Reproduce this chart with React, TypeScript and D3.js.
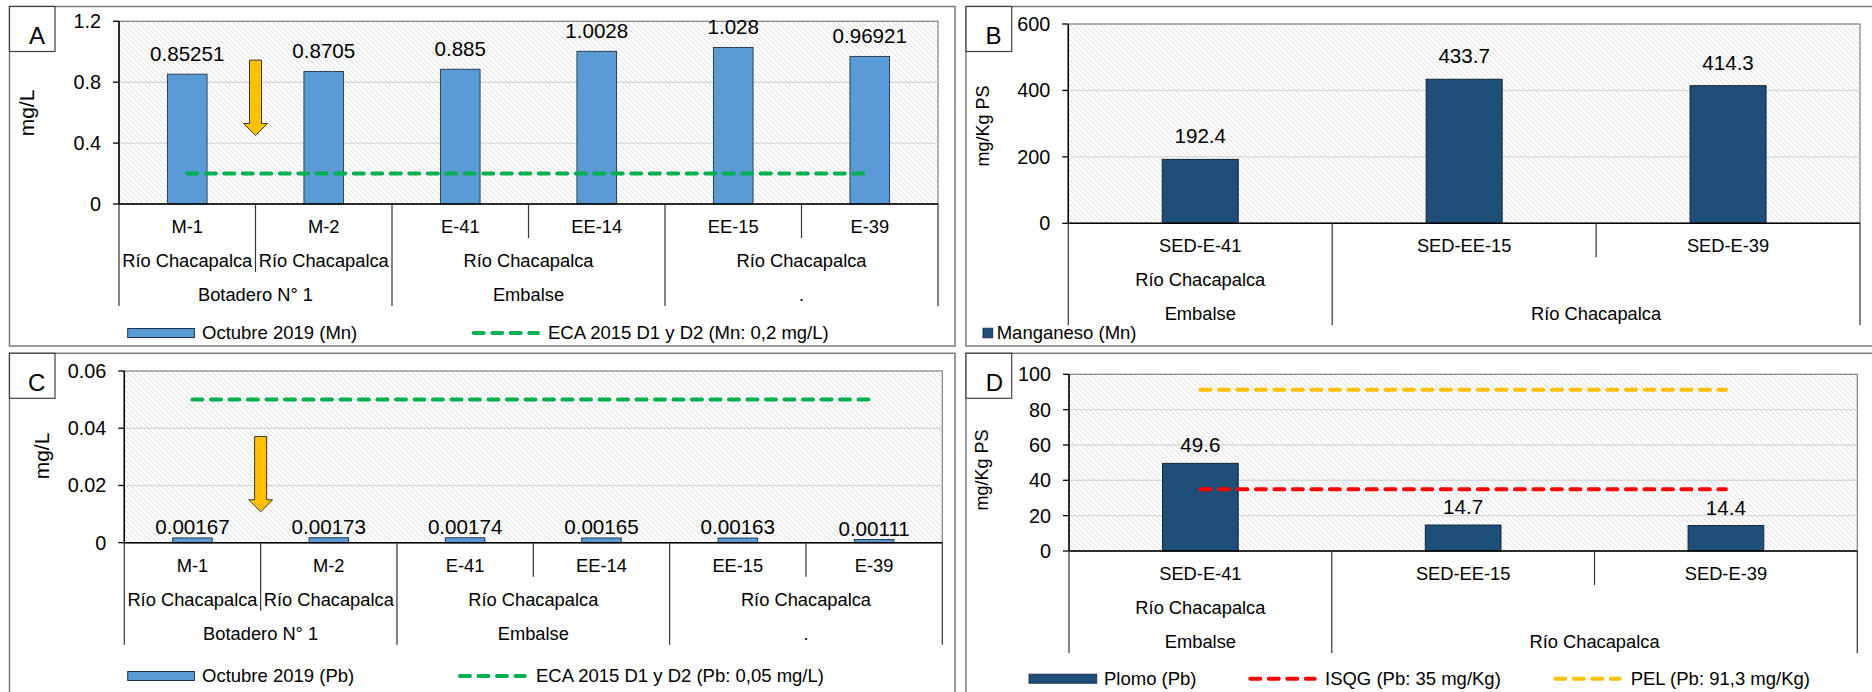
import React from "react";
import * as d3 from "d3";

// ---------- DATA ----------
const waterStations = ["M-1", "M-2", "E-41", "EE-14", "EE-15", "E-39"];
const waterRiverGroups: [string, number][] = [
  ["Río Chacapalca", 1],
  ["Río Chacapalca", 1],
  ["Río Chacapalca", 2],
  ["Río Chacapalca", 2],
];
const waterZoneGroups: [string, number][] = [
  ["Botadero N° 1", 2],
  ["Embalse", 2],
  [".", 2],
];
const mnWater = [0.85251, 0.8705, 0.885, 1.0028, 1.028, 0.96921];
const pbWater = [0.00167, 0.00173, 0.00174, 0.00165, 0.00163, 0.00111];
const ecaMn = 0.2;
const ecaPb = 0.05;

const sedStations = ["SED-E-41", "SED-EE-15", "SED-E-39"];
const sedRiverGroups: [string, number][] = [
  ["Río Chacapalca", 1],
  ["", 2],
];
const sedZoneGroups: [string, number][] = [
  ["Embalse", 1],
  ["Río Chacapalca", 2],
];
const mnSed = [192.4, 433.7, 414.3];
const pbSed = [49.6, 14.7, 14.4];
const isqgPb = 35;
const pelPb = 91.3;

const mnWaterTicks = [0, 0.4, 0.8, 1.2];
const pbWaterTicks = [0, 0.02, 0.04, 0.06];
const mnSedTicks = [0, 200, 400, 600];
const pbSedTicks = [0, 20, 40, 60, 80, 100];

const legendMnWater = ["Octubre 2019 (Mn)", "ECA 2015 D1 y D2 (Mn: 0,2 mg/L)"];
const legendPbWater = ["Octubre 2019 (Pb)", "ECA 2015 D1 y D2 (Pb: 0,05 mg/L)"];
const legendMnSed = ["Manganeso (Mn)"];
const legendPbSed = ["Plomo (Pb)", "ISQG (Pb: 35 mg/Kg)", "PEL (Pb: 91,3 mg/Kg)"];

// ---------- STYLE ----------
const FONT = "'Liberation Sans', Arial, sans-serif";
const LIGHT_BLUE = "#5B9BD5";
const NAVY = "#1F4E79";
const GREEN = "#00B050";
const RED = "#FF0000";
const YELLOW = "#FFC000";
const DASH = "10 8.5";

type Legend =
  | { kind: "rect"; x: number; w: number; h: number; color: string; text: string; tx: number }
  | { kind: "line"; x: number; x2: number; color: string; text: string; tx: number };

interface PanelProps {
  id: string;
  frame: { x: number; y: number; w: number; h: number };
  letter: string;
  letterBox: { x: number; y: number; w: number; h: number };
  letterPos: [number, number];
  plot: { x0: number; x1: number; top: number; bottom: number };
  yMax: number;
  ticks: number[];
  cats: string[];
  level2: [string, number][];
  level3: [string, number][];
  values: number[];
  barColor: string;
  barStroke: string;
  barFrac: number;
  labelLift: number;
  refLines: { value: number; color: string }[];
  yTitle: string;
  yTitlePos: [number, number];
  yTitleSize: number;
  legendY: number;
  legend: Legend[];
  arrow?: { after: number; from: number; to: number };
}

const ROW_H = 34;
const BASE_OFF = 29;

function Panel(p: PanelProps) {
  const x = d3
    .scaleBand<string>()
    .domain(p.cats)
    .range([p.plot.x0, p.plot.x1])
    .paddingInner(0)
    .paddingOuter(0);
  const y = d3.scaleLinear().domain([0, p.yMax]).range([p.plot.bottom, p.plot.top]);
  const bw = x.bandwidth();
  const n = p.cats.length;
  const edge = (k: number) => p.plot.x0 + k * bw;

  const boundaries = (groups: [string, number][]) => {
    const s = new Set<number>();
    let acc = 0;
    groups.forEach(([, span]) => {
      s.add(acc);
      acc += span;
      s.add(acc);
    });
    return s;
  };
  const b2 = boundaries(p.level2);
  const b3 = boundaries(p.level3);
  const seps = d3.range(n + 1).map((k) => {
    let depth = 1;
    if (k === 0 || k === n) depth = 3;
    else {
      if (b2.has(k)) depth = 2;
      if (b2.has(k) && b3.has(k)) depth = 3;
    }
    return { k, depth };
  });

  const groupLabels = (groups: [string, number][], row: number) => {
    let acc = 0;
    return groups.map(([label, span], i) => {
      const cx = edge(acc) + (span * bw) / 2;
      acc += span;
      return (
        <text
          key={`g${row}-${i}`}
          x={cx}
          y={p.plot.bottom + row * ROW_H + BASE_OFF}
          textAnchor="middle"
          fontSize={18.3}
        >
          {label}
        </text>
      );
    });
  };

  const first = x(p.cats[0])! + bw / 2;
  const last = x(p.cats[n - 1])! + bw / 2;
  const patId = `hatch-${p.id}`;

  let arrowPath = "";
  if (p.arrow) {
    const ax = edge(p.arrow.after + 1);
    const yTop = y(p.arrow.from);
    const yTip = y(p.arrow.to);
    const sw = 6;
    const hw = 12;
    const hl = 12;
    arrowPath = `M${ax - sw},${yTop} L${ax + sw},${yTop} L${ax + sw},${yTip - hl} L${ax + hw},${yTip - hl} L${ax},${yTip} L${ax - hw},${yTip - hl} L${ax - sw},${yTip - hl} Z`;
  }

  return (
    <g fontFamily={FONT} fill="#000">
      <defs>
        <pattern id={patId} patternUnits="userSpaceOnUse" width={5} height={5}>
          <rect width={5} height={5} fill="#fff" />
          <path d="M0,0L5,5M-1,4L1,6M4,-1L6,1" stroke="#d9d9d9" strokeWidth={0.9} />
        </pattern>
      </defs>
      {/* frame */}
      <rect
        x={p.frame.x}
        y={p.frame.y}
        width={p.frame.w}
        height={p.frame.h}
        fill="#fff"
        stroke="#7a7a7a"
        strokeWidth={1.5}
      />
      <rect
        x={p.letterBox.x}
        y={p.letterBox.y}
        width={p.letterBox.w}
        height={p.letterBox.h}
        fill="#fff"
        stroke="#404040"
        strokeWidth={1.2}
      />
      <text x={p.letterPos[0]} y={p.letterPos[1]} textAnchor="middle" fontSize={24}>
        {p.letter}
      </text>

      {/* plot area */}
      <rect
        x={p.plot.x0}
        y={p.plot.top}
        width={p.plot.x1 - p.plot.x0}
        height={p.plot.bottom - p.plot.top}
        fill={`url(#${patId})`}
        stroke="#7f7f7f"
        strokeWidth={1.2}
      />
      {p.ticks
        .filter((t) => t > 0 && t < p.yMax)
        .map((t) => (
          <line
            key={`gl${t}`}
            x1={p.plot.x0}
            x2={p.plot.x1}
            y1={y(t)}
            y2={y(t)}
            stroke="#d9d9d9"
            strokeWidth={1.4}
          />
        ))}

      {/* y axis */}
      <line x1={p.plot.x0} x2={p.plot.x0} y1={p.plot.top} y2={p.plot.bottom} stroke="#000" strokeWidth={1.5} />
      {p.ticks.map((t) => (
        <g key={`t${t}`}>
          <line x1={p.plot.x0 - 6} x2={p.plot.x0} y1={y(t)} y2={y(t)} stroke="#000" strokeWidth={1.3} />
          <text x={p.plot.x0 - 18} y={y(t)} dy="0.35em" textAnchor="end" fontSize={19.8}>
            {String(t)}
          </text>
        </g>
      ))}
      <text
        transform={`translate(${p.yTitlePos[0]},${p.yTitlePos[1]}) rotate(-90)`}
        textAnchor="middle"
        fontSize={p.yTitleSize}
      >
        {p.yTitle}
      </text>

      {/* bars */}
      {p.values.map((v, i) => {
        const cx = x(p.cats[i])! + bw / 2;
        const w = bw * p.barFrac;
        return (
          <rect
            key={`b${i}`}
            x={cx - w / 2}
            y={y(v)}
            width={w}
            height={y(0) - y(v)}
            fill={p.barColor}
            stroke={p.barStroke}
            strokeWidth={1}
          />
        );
      })}

      {/* reference lines */}
      {p.refLines.map((r, i) => (
        <line
          key={`r${i}`}
          x1={first}
          x2={last}
          y1={y(r.value)}
          y2={y(r.value)}
          stroke={r.color}
          strokeWidth={4}
          strokeDasharray={DASH}
          strokeLinecap="round"
        />
      ))}

      {/* x axis line */}
      <line x1={p.plot.x0} x2={p.plot.x1} y1={p.plot.bottom} y2={p.plot.bottom} stroke="#000" strokeWidth={1.5} />

      {/* data labels */}
      {p.values.map((v, i) => (
        <text
          key={`l${i}`}
          x={x(p.cats[i])! + bw / 2}
          y={y(v) - p.labelLift}
          textAnchor="middle"
          fontSize={20.6}
        >
          {String(v)}
        </text>
      ))}

      {/* arrow */}
      {p.arrow && <path d={arrowPath} fill={YELLOW} stroke="#3a3a3a" strokeWidth={1} />}

      {/* category separators */}
      {seps.map((s) => (
        <line
          key={`s${s.k}`}
          x1={edge(s.k)}
          x2={edge(s.k)}
          y1={p.plot.bottom}
          y2={p.plot.bottom + s.depth * ROW_H}
          stroke="#333"
          strokeWidth={1.2}
        />
      ))}
      {p.cats.map((c) => (
        <text
          key={`c${c}`}
          x={x(c)! + bw / 2}
          y={p.plot.bottom + BASE_OFF}
          textAnchor="middle"
          fontSize={18.3}
        >
          {c}
        </text>
      ))}
      {groupLabels(p.level2, 1)}
      {groupLabels(p.level3, 2)}

      {/* legend */}
      {p.legend.map((l, i) => (
        <g key={`lg${i}`}>
          {l.kind === "rect" ? (
            <rect
              x={l.x}
              y={p.legendY - l.h / 2}
              width={l.w}
              height={l.h}
              fill={l.color}
              stroke="#1f3350"
              strokeWidth={1}
            />
          ) : (
            <line
              x1={l.x + 2}
              x2={l.x2 - 2}
              y1={p.legendY}
              y2={p.legendY}
              stroke={l.color}
              strokeWidth={4}
              strokeDasharray={DASH}
              strokeLinecap="round"
            />
          )}
          <text x={l.tx} y={p.legendY} dy="0.35em" fontSize={18.5}>
            {l.text}
          </text>
        </g>
      ))}
    </g>
  );
}

export default function App() {
  return (
    <svg
      width={1872}
      height={692}
      style={{ position: "absolute", left: 0, top: 0, background: "#fff" }}
    >
      <rect width={1872} height={692} fill="#fff" />
      <Panel
        id="A"
        frame={{ x: 9.5, y: 6.5, w: 945.5, h: 339.5 }}
        letter="A"
        letterBox={{ x: 9.5, y: 6.5, w: 45.5, h: 45 }}
        letterPos={[37, 43.5]}
        plot={{ x0: 119, x1: 938, top: 21.3, bottom: 204 }}
        yMax={1.2}
        ticks={mnWaterTicks}
        cats={waterStations}
        level2={waterRiverGroups}
        level3={waterZoneGroups}
        values={mnWater}
        barColor={LIGHT_BLUE}
        barStroke="#2a3f55"
        barFrac={0.29}
        labelLift={13}
        refLines={[{ value: ecaMn, color: GREEN }]}
        yTitle="mg/L"
        yTitlePos={[34, 113]}
        yTitleSize={21}
        legendY={333}
        legend={[
          { kind: "rect", x: 127.7, w: 66.7, h: 9, color: LIGHT_BLUE, text: legendMnWater[0], tx: 202 },
          { kind: "line", x: 471.7, x2: 540, color: GREEN, text: legendMnWater[1], tx: 548 },
        ]}
        arrow={{ after: 0, from: 0.945, to: 0.45 }}
      />
      <Panel
        id="B"
        frame={{ x: 966, y: 6.5, w: 910, h: 339.5 }}
        letter="B"
        letterBox={{ x: 966, y: 6.5, w: 45.7, h: 45 }}
        letterPos={[993.5, 43.5]}
        plot={{ x0: 1068.3, x1: 1860, top: 24, bottom: 223.3 }}
        yMax={600}
        ticks={mnSedTicks}
        cats={sedStations}
        level2={sedRiverGroups}
        level3={sedZoneGroups}
        values={mnSed}
        barColor={NAVY}
        barStroke="#10263d"
        barFrac={0.288}
        labelLift={16}
        refLines={[]}
        yTitle="mg/Kg PS"
        yTitlePos={[989, 126]}
        yTitleSize={18}
        legendY={333}
        legend={[{ kind: "rect", x: 983, w: 9.7, h: 9.5, color: NAVY, text: legendMnSed[0], tx: 996.7 }]}
      />
      <Panel
        id="C"
        frame={{ x: 9.5, y: 353.3, w: 945.5, h: 345 }}
        letter="C"
        letterBox={{ x: 9.5, y: 353.3, w: 45.5, h: 45 }}
        letterPos={[36.7, 391]}
        plot={{ x0: 124.3, x1: 942.3, top: 371, bottom: 542.7 }}
        yMax={0.06}
        ticks={pbWaterTicks}
        cats={waterStations}
        level2={waterRiverGroups}
        level3={waterZoneGroups}
        values={pbWater}
        barColor={LIGHT_BLUE}
        barStroke="#2a3f55"
        barFrac={0.29}
        labelLift={4}
        refLines={[{ value: ecaPb, color: GREEN }]}
        yTitle="mg/L"
        yTitlePos={[49, 456]}
        yTitleSize={21}
        legendY={676}
        legend={[
          { kind: "rect", x: 127.7, w: 66.7, h: 9, color: LIGHT_BLUE, text: legendPbWater[0], tx: 202 },
          { kind: "line", x: 458, x2: 526.7, color: GREEN, text: legendPbWater[1], tx: 536 },
        ]}
        arrow={{ after: 0, from: 0.0371, to: 0.0108 }}
      />
      <Panel
        id="D"
        frame={{ x: 966, y: 353.3, w: 910, h: 345 }}
        letter="D"
        letterBox={{ x: 966, y: 353.3, w: 45.7, h: 45 }}
        letterPos={[994.5, 390.5]}
        plot={{ x0: 1069, x1: 1857.3, top: 374.3, bottom: 551 }}
        yMax={100}
        ticks={pbSedTicks}
        cats={sedStations}
        level2={sedRiverGroups}
        level3={sedZoneGroups}
        values={pbSed}
        barColor={NAVY}
        barStroke="#10263d"
        barFrac={0.288}
        labelLift={11}
        refLines={[
          { value: isqgPb, color: RED },
          { value: pelPb, color: YELLOW },
        ]}
        yTitle="mg/Kg PS"
        yTitlePos={[988, 470]}
        yTitleSize={18}
        legendY={678.7}
        legend={[
          { kind: "rect", x: 1029, w: 67.7, h: 9, color: NAVY, text: legendPbSed[0], tx: 1104 },
          { kind: "line", x: 1248.3, x2: 1316.7, color: RED, text: legendPbSed[1], tx: 1325 },
          { kind: "line", x: 1553.3, x2: 1621.7, color: YELLOW, text: legendPbSed[2], tx: 1630.7 },
        ]}
      />
    </svg>
  );
}
